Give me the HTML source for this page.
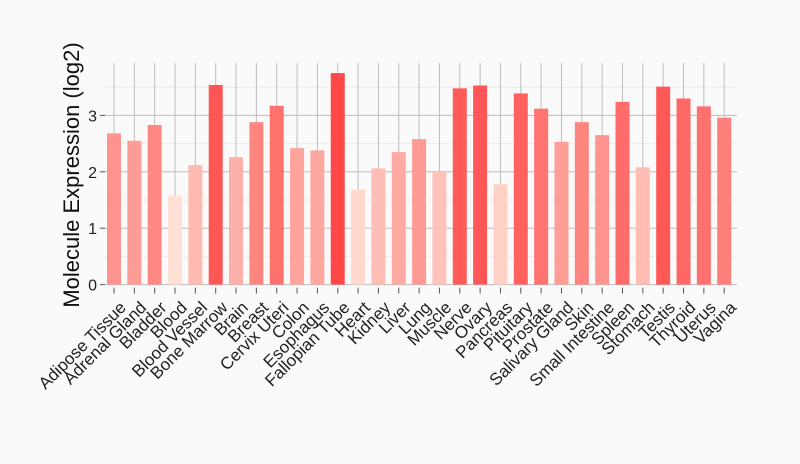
<!DOCTYPE html>
<html><head><meta charset="utf-8"><style>
html,body{margin:0;padding:0;background:#fafafa;}
svg{display:block;font-family:"Liberation Sans","DejaVu Sans",sans-serif;}
</style></head><body>
<svg id="s" width="800" height="464" xmlns="http://www.w3.org/2000/svg">
<rect width="800" height="464" fill="#fafafa"/>
</svg>
<script>
var names=["Adipose Tissue","Adrenal Gland","Bladder","Blood","Blood Vessel","Bone Marrow","Brain","Breast","Cervix Uteri","Colon","Esophagus","Fallopian Tube","Heart","Kidney","Liver","Lung","Muscle","Nerve","Ovary","Pancreas","Pituitary","Prostate","Salivary Gland","Skin","Small Intestine","Spleen","Stomach","Testis","Thyroid","Uterus","Vagina"];
var v=[2.68,2.55,2.83,1.58,2.12,3.54,2.26,2.88,3.17,2.42,2.38,3.75,1.68,2.06,2.35,2.58,2.0,3.48,3.53,1.78,3.39,3.12,2.53,2.88,2.65,3.24,2.08,3.51,3.30,3.16,2.96];
var y0=284.6,k=56.4,x0=114,dx=20.34,L=105,R=737,T=63;
var s='';
for(var i=0;i<8;i++){var y=y0-i*0.5*k;if(y<T)break;s+='<line x1="'+L+'" x2="'+R+'" y1="'+y+'" y2="'+y+'" stroke="'+(i%2?'#ececec':'#bdbdbd')+'"/>';}
for(var i=0;i<31;i++){var x=x0+i*dx;s+='<line x1="'+x+'" x2="'+x+'" y1="'+T+'" y2="'+y0+'" stroke="#bdbdbd"/>';}
function col(t){var a=[255,226,214],b=[255,72,72];t=Math.max(0,Math.min(1,t));return 'rgb('+a.map(function(c,j){return Math.round(c+(b[j]-c)*t)}).join(',')+')';}
for(var i=0;i<31;i++){var x=x0+i*dx,h=v[i]*k;s+='<rect x="'+(x-7)+'" y="'+(y0-h)+'" width="14" height="'+h+'" fill="'+col((v[i]-1.55)/2.2)+'"/>';
s+='<line x1="'+x+'" x2="'+x+'" y1="'+(y0+3)+'" y2="'+(y0+9)+'" stroke="#555"/>';
s+='<text transform="translate('+(x+13)+','+(y0+24)+') rotate(-45)" text-anchor="end" font-size="17" fill="#222">'+names[i]+'</text>';}
for(var i=0;i<4;i++){var y=y0-i*k;s+='<line x1="'+(L-5)+'" x2="'+L+'" y1="'+y+'" y2="'+y+'" stroke="#555"/><text x="'+(L-8)+'" y="'+(y+6)+'" text-anchor="end" font-size="16" fill="#222">'+i+'</text>';}
s+='<text transform="translate(79,175) rotate(-90)" text-anchor="middle" font-size="22" fill="#111">Molecule Expression (log2)</text>';
document.getElementById('s').innerHTML+=s;
</script>
</body></html>
